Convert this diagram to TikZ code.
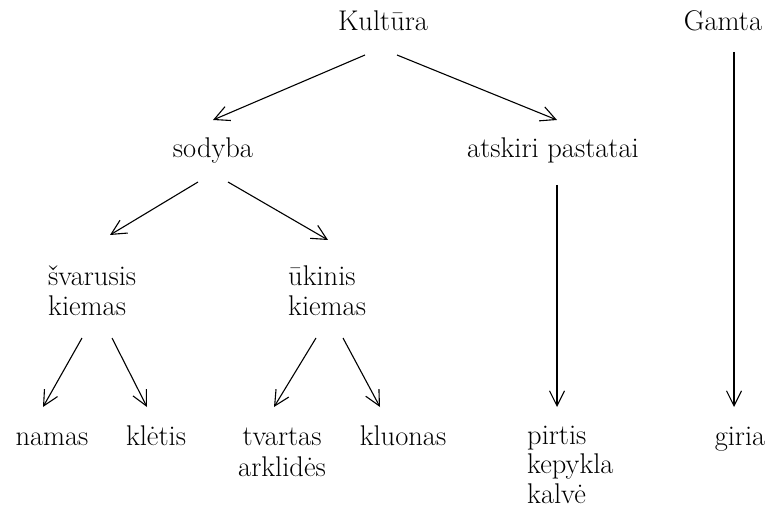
\documentclass[tikz,border=0pt]{standalone}
\usetikzlibrary{arrows.meta}
\begin{document}
\begin{tikzpicture}[x=1pt,y=-1pt,
  lbl/.style={inner sep=0pt,font=\fontsize{28.5}{31}\selectfont},
  arr/.style={line width=1.1pt,-{Straight Barb[length=15pt,width=15pt,line width=1.1pt]}}]
\useasboundingbox (0,0) rectangle (772,508);
\node[lbl,anchor=base] (kul) at (383,31) {Kultūra};
\node[lbl,anchor=base] (gam) at (723,31) {Gamta};
\node[lbl,anchor=base] (sod) at (213,158) {sodyba};
\node[lbl,anchor=base] (ats) at (553,158) {atskiri pastatai};
\node[lbl,anchor=base west,align=left] (sva) at (48,316) {švarusis\\kiemas};
\node[lbl,anchor=base west,align=left] (uki) at (288,316) {ūkinis\\kiemas};
\node[lbl,anchor=base] (nam) at (52,445) {namas};
\node[lbl,anchor=base] (kle) at (156,445) {klėtis};
\node[lbl,anchor=base,align=center] (tva) at (282,476) {tvartas\\arklidės};
\node[lbl,anchor=base] (klu) at (403,445) {kluonas};
\node[lbl,anchor=base west,align=left,font=\fontsize{28.5}{29.5}\selectfont] (pir) at (527,503) {pirtis\\kepykla\\kalvė};
\node[lbl,anchor=base] (gir) at (740,445) {giria};
\draw[arr] ([shift={(-18,24)}]kul.base) -- ([shift={(0,-38)}]sod.base);
\draw[arr] ([shift={(14,24)}]kul.base) -- ([shift={(4,-38)}]ats.base);
\draw[arr] ([shift={(-15,24)}]sod.base) -- ([shift={(62,-81)}]sva.base west);
\draw[arr] ([shift={(15,24)}]sod.base) -- ([shift={(40,-76)}]uki.base west);
\draw[arr] ([shift={(34,22)}]sva.base west) -- ([shift={(-9,-38)}]nam.base);
\draw[arr] ([shift={(64,22)}]sva.base west) -- ([shift={(-9,-38)}]kle.base);
\draw[arr] ([shift={(28,22)}]uki.base west) -- ([shift={(-8,-69)}]tva.base);
\draw[arr] ([shift={(55,22)}]uki.base west) -- ([shift={(-23,-38)}]klu.base);
\draw[arr] ([shift={(4,27)}]ats.base) -- ([shift={(30,-96)}]pir.base west);
\draw[arr] ([shift={(11,21)}]gam.base) -- ([shift={(-6,-38)}]gir.base);
\end{tikzpicture}
\end{document}
